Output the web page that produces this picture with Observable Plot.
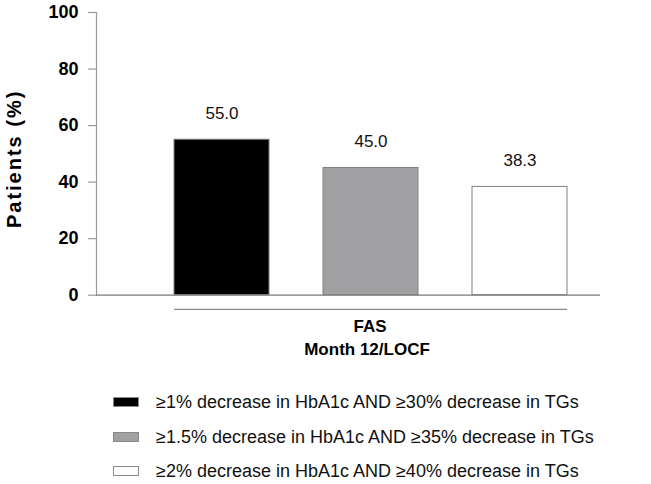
<!DOCTYPE html>
<html>
<head>
<meta charset="utf-8">
<script src="https://cdn.jsdelivr.net/npm/d3@7"></script>
<script src="https://cdn.jsdelivr.net/npm/@observablehq/plot@0.6"></script>
<style>
  html, body { margin: 0; padding: 0; background: #fff; }
  body { width: 651px; height: 484px; overflow: hidden; font-family: "Liberation Sans", Arial, sans-serif; }
  #chart svg { display: block; }
  .ylab text { letter-spacing: 2px; }
  #legend { position: relative; margin: 0; padding: 0; }
  .row { position: absolute; left: 113px; height: 20px; display: flex; align-items: center; }
  .sw { width: 26px; height: 10px; box-sizing: border-box; border: 1px solid #8a8a8a; }
  .lt { margin-left: 17px; font-size: 18px; color: #111; white-space: nowrap; }
</style>
</head>
<body>
<div id="chart"></div>
<div id="legend"></div>
<script>
// ---- data ----
const series = [
  "≥1% decrease in HbA1c AND ≥30% decrease in TGs",
  "≥1.5% decrease in HbA1c AND ≥35% decrease in TGs",
  "≥2% decrease in HbA1c AND ≥40% decrease in TGs"
];
const values = [55.0, 45.0, 38.3];
const valueLabels = ["55.0", "45.0", "38.3"];
const yTicks = [0, 20, 40, 60, 80, 100];
const groupLines = ["FAS", "Month 12/LOCF"];
const yLabel = "Patients (%)";
const fills = ["#000000", "#a1a1a4", "#ffffff"];

const rows = series.map((s, i) => ({series: s, value: values[i], label: valueLabels[i]}));

const H = 380;
const chart = Plot.plot({
  width: 651,
  height: H,
  marginTop: 12,
  marginBottom: H - 294.7,
  marginLeft: 96,
  marginRight: 51,
  style: {fontFamily: "'Liberation Sans', Arial, sans-serif", background: "#fff", color: "#000"},
  x: {domain: series, range: [173, 568], paddingInner: 0.36, paddingOuter: 0, axis: null},
  y: {domain: [0, 100], axis: null},
  color: {domain: series, range: fills},
  marks: [
    Plot.frame({anchor: "left", stroke: "#9a9a9a", strokeWidth: 1.2}),
    Plot.axisY({ticks: yTicks, tickSize: 8, tickFormat: () => "", stroke: "#9a9a9a", strokeWidth: 1.2, label: null}),
    Plot.text(yTicks, {y: d => d, text: d => String(d), frameAnchor: "left", textAnchor: "end", dx: -18, fontSize: 18, fontWeight: "bold", fill: "#000"}),
    Plot.barY(rows, {x: "series", y: "value", fill: "series", stroke: "#808080", strokeWidth: 1}),
    Plot.ruleY([0], {stroke: "#7a7a7a", strokeWidth: 1.2}),
    Plot.ruleY([-5], {x1: () => series[0], x2: () => series[series.length - 1], stroke: "#8a8a8a", strokeWidth: 1.2}),
    Plot.text(rows, {x: "series", y: "value", text: "label", dy: -26, fontSize: 17, fill: "#111"}),
    Plot.text([groupLines[0]], {x: () => series[1], frameAnchor: "bottom", text: d => d, dx: -1, dy: 37, fontSize: 17, fontWeight: "bold", fill: "#000"}),
    Plot.text([groupLines[1]], {x: () => series[1], frameAnchor: "bottom", text: d => d, dx: -4, dy: 59.5, fontSize: 17, fontWeight: "bold", fill: "#000"}),
    Plot.text([yLabel], {frameAnchor: "left", textAnchor: "middle", text: d => d, rotate: -90, dx: -82, dy: 5, fontSize: 20, fontWeight: "bold", fill: "#000", className: "ylab"})
  ]
});
document.getElementById("chart").appendChild(chart);

// ---- legend (HTML) ----
const legend = document.getElementById("legend");
const rowTops = [12, 47, 81];
series.forEach((s, i) => {
  const r = document.createElement("div");
  r.className = "row";
  r.style.top = rowTops[i] + "px";
  const sw = document.createElement("div");
  sw.className = "sw";
  sw.style.background = fills[i];
  const t = document.createElement("span");
  t.className = "lt";
  t.textContent = s;
  r.appendChild(sw); r.appendChild(t);
  legend.appendChild(r);
});
</script>
</body>
</html>
